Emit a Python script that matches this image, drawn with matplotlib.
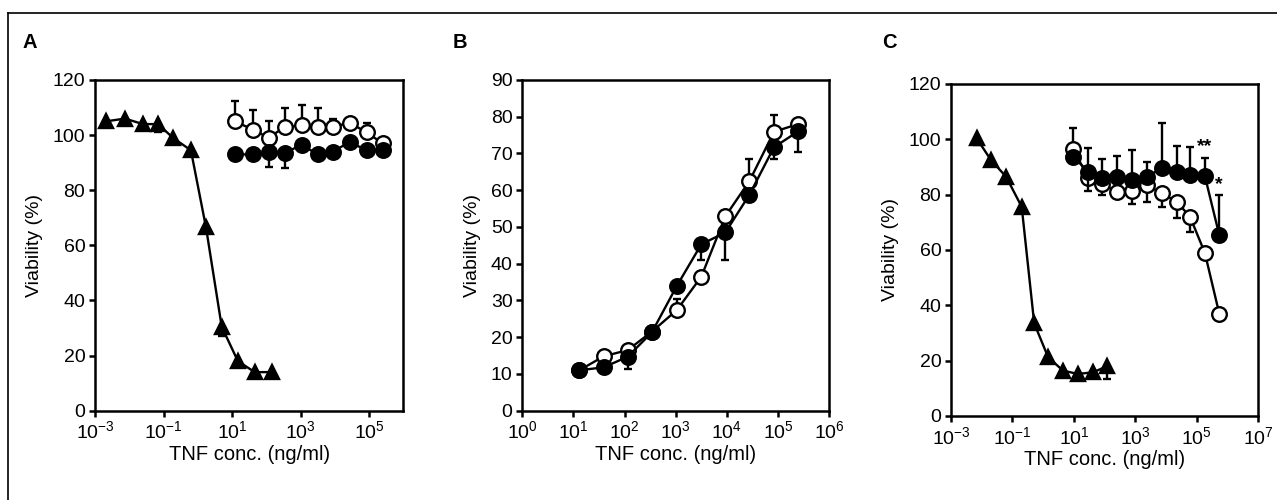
import matplotlib
matplotlib.use("Agg")
import matplotlib.pyplot as plt
import numpy as np
from matplotlib.ticker import LogFormatterMathtext, NullLocator, MultipleLocator, FixedLocator
from matplotlib.lines import Line2D

plt.rcParams['font.family'] = ['Liberation Sans', 'DejaVu Sans']
plt.rcParams['mathtext.fontset'] = 'custom'
plt.rcParams['mathtext.rm'] = 'Liberation Sans'
plt.rcParams['mathtext.it'] = 'Liberation Sans'
plt.rcParams['mathtext.bf'] = 'Liberation Sans:bold'

# ---------------- Panel A ----------------
tri_x_A = [0.0021, 0.0075, 0.025, 0.069, 0.19, 0.63, 1.74, 5.0, 14.8, 46, 145]
tri_y_A = [105, 106, 104, 104, 99, 94.5, 66.5, 30.5, 18, 14, 14]
tri_errdn_A = [0, 1, 1.5, 3, 1, 0, 0, 3.5, 0, 1, 1.5]

circ_x_A = [12, 41, 117, 345, 1070, 3160, 8700, 27000, 85000, 250000]
open_y_A = [105, 102, 99, 103, 103.5, 103, 103, 104.5, 101, 97]
open_errup_A = [7.5, 7, 6, 7, 7.5, 7, 3, 0, 3.5, 0]
fill_y_A = [93, 93, 94, 93.5, 96.5, 93, 94, 97.5, 94.5, 94.5]
fill_errdn_A = [0, 0, 5.5, 5.5, 0, 0, 0, 0, 0, 0]

# ---------------- Panel B ----------------
circ_x_B = [13, 39, 115, 340, 1050, 3160, 9300, 27500, 83000, 245000]
open_y_B = [11, 14.8, 16.5, 21.5, 27.4, 36.5, 52.9, 62.5, 75.9, 78]
open_errup_B = [0, 0, 0, 0, 3, 0, 0, 6, 4.5, 0]
fill_y_B = [11, 11.8, 14.7, 21.3, 34, 45.3, 48.5, 58.8, 71.7, 76]
fill_errdn_B = [0, 0, 3.4, 0, 0, 4.4, 7.5, 0, 3.3, 5.7]

# ---------------- Panel C ----------------
tri_x_C = [0.0068, 0.020, 0.062, 0.20, 0.51, 1.44, 4.4, 13.5, 42, 120]
tri_y_C = [100.4, 92.5, 86.5, 75.6, 33.5, 21.3, 16.4, 15.2, 15.8, 18.0]
tri_errdn_C = [2.5, 0, 0, 0, 0, 0, 0, 1.5, 1.5, 4.5]

circ_x_C = [9.5, 29.5, 79, 245, 760, 2340, 7100, 21900, 60000, 182000, 537000]
open_y_C = [96.5, 86, 84, 81, 81.5, 83.5, 80.5, 77.5, 72, 59, 37]
open_errup_C = [7.5, 0, 0, 0, 0, 0, 0, 0, 0, 0, 0]
open_errdn_C = [0, 0, 4, 0, 5, 6, 5, 6, 5.6, 0, 0]
fill_y_C = [93.7, 88.3, 85.9, 86.5, 85.3, 86.5, 89.5, 88.3, 87.1, 86.8, 65.4]
fill_errup_C = [0, 8.4, 7, 7.5, 11, 5.4, 16.5, 9.4, 10.2, 6.3, 14.5]
fill_errdn_C = [0, 7, 0, 0, 0, 0, 0, 0, 0, 0, 0]

xlabel = "TNF conc. (ng/ml)"
ylabel = "Viability (%)"

fig = plt.figure(figsize=(12.77, 5.0), dpi=100)

# figure border (top and left)
fig.add_artist(Line2D([8/1277, 1.0], [1-13/500, 1-13/500], transform=fig.transFigure, color='black', lw=1.2))
fig.add_artist(Line2D([8/1277, 8/1277], [0, 1-13/500], transform=fig.transFigure, color='black', lw=1.2))

LW = 1.7
MS = 10.5
MEW = 1.7


def series(ax, x, y, marker, face, errdn=None, errup=None, z=3):
    n = len(x)
    dn = errdn if errdn is not None else [0]*n
    up = errup if errup is not None else [0]*n
    ax.errorbar(x, y, yerr=[dn, up], fmt='none', ecolor='black', elinewidth=1.7,
                capsize=3, capthick=1.7, zorder=z)
    ms = MS - 1 if marker == '^' else MS
    ax.plot(x, y, '-', color='black', lw=LW, marker=marker, ms=ms,
            mfc=face, mec='black', mew=MEW, zorder=z + 0.5, clip_on=False)


def style(ax, xlim, ylim, ystep, xticks):
    ax.set_xscale('log')
    ax.set_xlim(*xlim)
    ax.set_ylim(*ylim)
    ax.xaxis.set_major_locator(FixedLocator(xticks))
    ax.xaxis.set_major_formatter(LogFormatterMathtext())
    ax.xaxis.set_minor_locator(NullLocator())
    ax.yaxis.set_major_locator(MultipleLocator(ystep))
    for s in ax.spines.values():
        s.set_linewidth(1.8)
    ax.tick_params(direction='out', length=4, width=1.8, labelsize=14, pad=3)
    ax.set_xlabel(xlabel, fontsize=14.5, labelpad=2)
    ax.set_ylabel(ylabel, fontsize=14, labelpad=7)


# Panel A
axA = fig.add_axes([95/1277, 1-410.7/500, 308.3/1277, 330.7/500])
series(axA, tri_x_A, tri_y_A, '^', 'black', errdn=tri_errdn_A)
series(axA, circ_x_A, open_y_A, 'o', 'white', errup=open_errup_A, z=3)
series(axA, circ_x_A, fill_y_A, 'o', 'black', errdn=fill_errdn_A, z=4)
style(axA, (1e-3, 1e6), (0, 120), 20, [1e-3, 1e-1, 1e1, 1e3, 1e5])

# Panel B
axB = fig.add_axes([522.3/1277, 1-410.7/500, 307/1277, 330.7/500])
series(axB, circ_x_B, open_y_B, 'o', 'white', errup=open_errup_B, z=3)
series(axB, circ_x_B, fill_y_B, 'o', 'black', errdn=fill_errdn_B, z=4)
style(axB, (1e0, 1e6), (0, 90), 10, [1e0, 1e1, 1e2, 1e3, 1e4, 1e5, 1e6])

# Panel C
axC = fig.add_axes([951/1277, 1-416/500, 307.3/1277, 332/500])
series(axC, tri_x_C, tri_y_C, '^', 'black', errdn=tri_errdn_C)
series(axC, circ_x_C, open_y_C, 'o', 'white', errdn=open_errdn_C, errup=open_errup_C, z=3)
series(axC, circ_x_C, fill_y_C, 'o', 'black', errdn=fill_errdn_C, errup=fill_errup_C, z=4)
style(axC, (1e-3, 1e7), (0, 120), 20, [1e-3, 1e-1, 1e1, 1e3, 1e5, 1e7])
axC.text(10**5.25, 97.5, '**', ha='center', va='center', fontsize=14, fontweight='bold')
axC.text(10**5.72, 83.5, '*', ha='center', va='center', fontsize=14, fontweight='bold')

# Panel letters
fig.text(30/1277, 1-43/500, 'A', ha='center', va='center', fontsize=14.5, fontweight='bold')
fig.text(460/1277, 1-43/500, 'B', ha='center', va='center', fontsize=14.5, fontweight='bold')
fig.text(889/1277, 1-43/500, 'C', ha='center', va='center', fontsize=14.5, fontweight='bold')

fig.savefig('out.png', dpi=100)
